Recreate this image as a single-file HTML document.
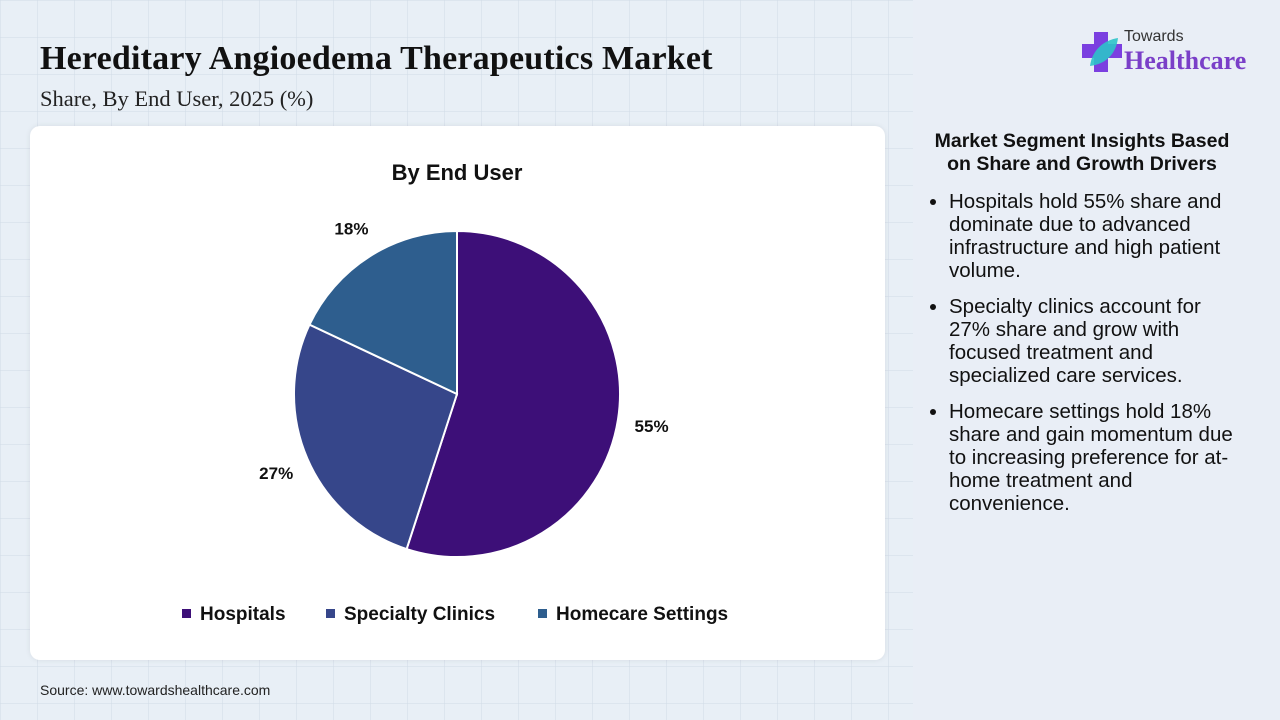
<!DOCTYPE html>
<html><head><meta charset="utf-8"><style>
body{margin:0;width:1280px;height:720px;overflow:hidden;font-family:"Liberation Sans",sans-serif;position:relative;
background-color:#e8eff6;
background-image:linear-gradient(rgba(210,220,232,.55) 1px,transparent 1px),linear-gradient(90deg,rgba(210,220,232,.55) 1px,transparent 1px);background-size:37px 37px;}
.side{position:absolute;left:913px;top:0;width:367px;height:720px;background:#e9eef6;}
h1{position:absolute;left:40px;top:40px;margin:0;font:bold 34px "Liberation Serif",serif;color:#111;letter-spacing:0.2px;white-space:nowrap;}
.sub{position:absolute;left:40px;top:86px;font:22.5px "Liberation Serif",serif;color:#222;}
.card{position:absolute;left:30px;top:126px;width:855px;height:534px;background:#fff;border-radius:10px;box-shadow:0 0 6px rgba(0,0,0,.08);}
.src{position:absolute;left:40px;top:682px;font-size:14px;color:#222;}
.ins{position:absolute;left:922px;top:130px;width:320px;color:#111;font-size:20.5px;}
.ins h2{font-size:19.5px;text-align:center;margin:0 0 14px;line-height:23px;}
.ins ul{margin:0;padding-left:27px;width:292px;}
.ins li{line-height:23px;margin-bottom:13px;}
</style></head><body>
<div class="side"></div>
<h1>Hereditary Angioedema Therapeutics Market</h1>
<div class="sub">Share, By End User, 2025 (%)</div>
<div style="position:absolute;left:1080px;top:28px;">
<svg width="44" height="44" style="position:absolute;left:0;top:2px"><path d="M14 2h14v12h14v14H28v14H14V28H2V14h12z" fill="#7b3fe0"/><path d="M10 36C12 20 24 10 38 8 36 24 26 34 10 36z" fill="#2cc3c9" opacity=".9"/></svg>
<div style="position:absolute;left:44px;top:0;font-size:16px;color:#333;">Towards</div>
<div style="position:absolute;left:44px;top:18px;font:bold 26px 'Liberation Serif',serif;color:#7a3fc8;">Healthcare</div>
</div>
<div class="card">
<svg id="pie" width="855" height="534"></svg>
</div>
<div class="src">Source: www.towardshealthcare.com</div>
<div class="ins">
<h2>Market Segment Insights Based on Share and Growth Drivers</h2>
<ul>
<li>Hospitals hold 55% share and dominate due to advanced infrastructure and high patient volume.</li>
<li>Specialty clinics account for 27% share and grow with focused treatment and specialized care services.</li>
<li>Homecare settings hold 18% share and gain momentum due to increasing preference for at-home treatment and convenience.</li>
</ul></div>
<script>
const categories=["Hospitals","Specialty Clinics","Homecare Settings"];
const values=[55,27,18];
const colors=["#3d0f78","#36468a","#2e5e8e"];
const NS="http://www.w3.org/2000/svg";
const svg=document.getElementById('pie');
const cx=427,cy=268,r=163;
function mk(t,a){const e=document.createElementNS(NS,t);for(const k in a)e.setAttribute(k,a[k]);return e;}
const title=mk('text',{x:427,y:54,'text-anchor':'middle','font-size':22,'font-weight':'bold',fill:'#111'});
title.textContent='By End User';


svg.appendChild(title);
const total=values.reduce((a,b)=>a+b,0);
let a0=0;
values.forEach((v,i)=>{
 const a1=a0+v/total*2*Math.PI;
 const p=t=>[cx+r*Math.sin(t),cy-r*Math.cos(t)];
 const [x0,y0]=p(a0),[x1,y1]=p(a1);
 const path=mk('path',{d:`M${cx},${cy}L${x0},${y0}A${r},${r} 0 ${a1-a0>Math.PI?1:0} 1 ${x1},${y1}Z`,fill:colors[i],stroke:'#fff','stroke-width':2});
 
 
 svg.appendChild(path);
 const m=(a0+a1)/2,lr=r+34;
 const t=mk('text',{x:cx+lr*Math.sin(m),y:cy-lr*Math.cos(m)+7,'text-anchor':'middle','font-size':17,'font-weight':'bold',fill:'#111'});
 t.textContent=v+'%';
 
 
 svg.appendChild(t);
 a0=a1;
});
const lx=[152,296,508];
categories.forEach((c,i)=>{
 const g=mk('g',{});
 
 
 g.appendChild(mk('rect',{x:lx[i],y:483,width:9,height:9,fill:colors[i]}));
 const t=mk('text',{x:lx[i]+18,y:494,'font-size':19,'font-weight':'bold',fill:'#111'});
 t.textContent=c;g.appendChild(t);svg.appendChild(g);
});
</script>
</body></html>
